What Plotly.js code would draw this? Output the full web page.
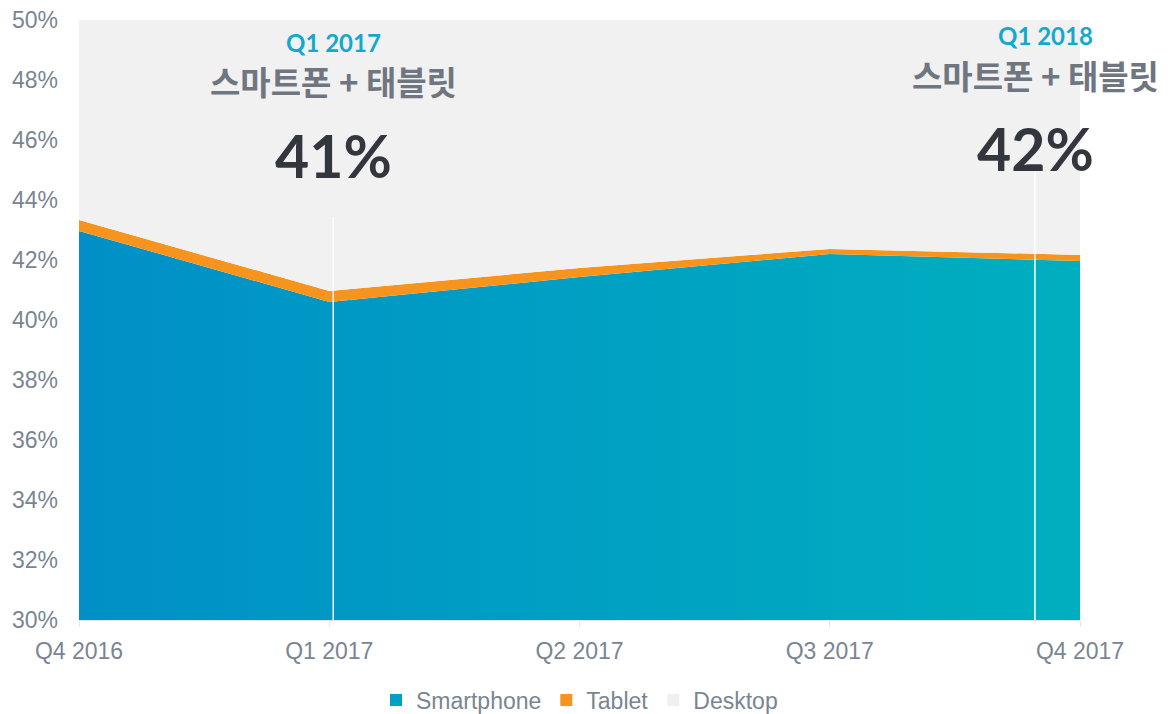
<!DOCTYPE html>
<html><head><meta charset="utf-8">
<script src="https://cdn.plot.ly/plotly-3.0.1.min.js"></script>
<style>html,body{margin:0;padding:0;background:#fff;}#chart{width:1168px;height:714px;}</style>
</head><body><div id="chart"></div>
<script>
const quarters = ["Q4 2016", "Q1 2017", "Q2 2017", "Q3 2017", "Q4 2017"];
const smartphone = [42.97, 40.6, 41.43, 42.2, 41.97];
const tablet = [0.36, 0.37, 0.3, 0.17, 0.2];
const desktop = smartphone.map((s, i) => +(100 - s - tablet[i]).toFixed(2));
const yTicks = [30, 32, 34, 36, 38, 40, 42, 44, 46, 48, 50];
const yTickText = yTicks.map(v => v + "%");
const callouts = [
  {period: "Q1 2017", label: "스마트폰 + 태블릿", value: "41%"},
  {period: "Q1 2018", label: "스마트폰 + 태블릿", value: "42%"}
];

const gray = "#7a8591";
const traces = [
  {x: quarters, y: smartphone, name: "Smartphone", stackgroup: "one", mode: "none",
   fillcolor: "#00a0c4",
   fillgradient: {type: "horizontal", colorscale: [[0, "#0090c7"], [1, "#00afbf"]]},
   showlegend: false, hoverinfo: "skip"},
  {x: quarters, y: tablet, name: "Tablet", stackgroup: "one", mode: "none",
   fillcolor: "#f7941e", showlegend: false, hoverinfo: "skip"},
  {x: quarters, y: desktop, name: "Desktop", stackgroup: "one", mode: "none",
   fillcolor: "#f1f1f1", showlegend: false, hoverinfo: "skip"},
  {x: [null], y: [null], name: "Smartphone", mode: "markers", marker: {symbol: "square", size: 12, color: "#00a0c6"}},
  {x: [null], y: [null], name: "Tablet", mode: "markers", marker: {symbol: "square", size: 12, color: "#f7941e"}},
  {x: [null], y: [null], name: "Desktop", mode: "markers", marker: {symbol: "square", size: 12, color: "#f0f0f0"}}
];

const annotations = [
  {x: 1.016, y: 49.25, text: "<b>" + callouts[0].period + "</b>", font: {size: 24, color: "#14a9cc", family: "Lato, Roboto, sans-serif"}},
  {x: 1.016, y: 47.97, text: "<b>" + callouts[0].label + "</b>", font: {size: 33, color: "#6f7680", family: "Noto Sans CJK KR, sans-serif"}},
  {x: 1.016, y: 45.5, text: "<b>" + callouts[0].value + "</b>", font: {size: 59, color: "#33373d", family: "Lato, Roboto, sans-serif"}},
  {x: 3.864, y: 49.47, text: "<b>" + callouts[1].period + "</b>", font: {size: 24, color: "#14a9cc", family: "Lato, Roboto, sans-serif"}},
  {x: 3.822, y: 48.18, text: "<b>" + callouts[1].label + "</b>", font: {size: 33, color: "#6f7680", family: "Noto Sans CJK KR, sans-serif"}},
  {x: 3.824, y: 45.73, text: "<b>" + callouts[1].value + "</b>", font: {size: 59, color: "#33373d", family: "Lato, Roboto, sans-serif"}}
].map(a => Object.assign({xref: "x", yref: "y", showarrow: false, xanchor: "center", yanchor: "middle", borderpad: 0}, a));

const layout = {
  width: 1168, height: 714,
  margin: {l: 79, r: 88, t: 20, b: 94},
  paper_bgcolor: "#fff", plot_bgcolor: "#fff",
  font: {family: "Liberation Sans, Arial, sans-serif", color: gray},
  xaxis: {type: "category", range: [0, 4], showgrid: false, zeroline: false,
          showline: true, linecolor: "#e3e6ea", linewidth: 1,
          ticks: "outside", ticklen: 6, tickcolor: "#e3e6ea", ticklabelstandoff: 4,
          tickfont: {size: 23, color: gray}, fixedrange: true},
  yaxis: {range: [30, 50], tickvals: yTicks, ticktext: yTickText, showgrid: false, zeroline: false,
          showline: false, ticks: "", ticklabelstandoff: 20,
          tickfont: {size: 23, color: gray}, fixedrange: true},
  showlegend: true,
  legend: {orientation: "h", x: 0.5, xanchor: "center", xref: "paper", y: 0.0196, yanchor: "middle", yref: "container",
           font: {size: 23, color: gray}, itemwidth: 30, traceorder: "normal"},
  annotations: annotations,
  shapes: [
    {type: "line", xref: "x", yref: "y", x0: 1.016, x1: 1.016, y0: 30, y1: 43.43, line: {color: "#ffffff", width: 1.5}, layer: "above"},
    {type: "line", xref: "x", yref: "y", x0: 3.82, x1: 3.82, y0: 30, y1: 44.93, line: {color: "#ffffff", width: 1.5}, layer: "above"}
  ]
};

Plotly.newPlot("chart", traces, layout, {displayModeBar: false, staticPlot: true});
</script></body></html>
